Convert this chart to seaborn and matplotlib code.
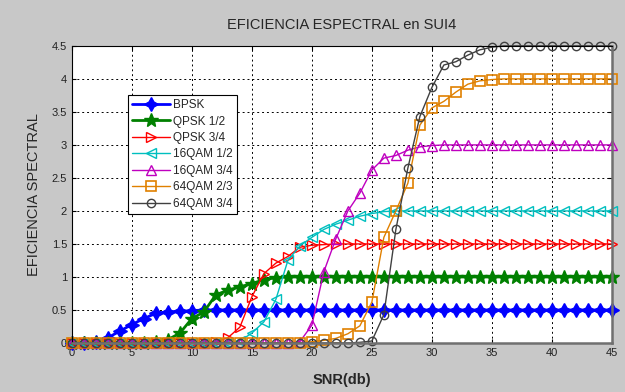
import matplotlib
matplotlib.use("Agg")
import matplotlib.pyplot as plt
import seaborn as sns
import pandas as pd

snr = list(range(46))

bpsk = [0, 0, 0.02, 0.08, 0.18, 0.28, 0.37, 0.45, 0.47, 0.48, 0.49, 0.5,
        0.5, 0.5, 0.5, 0.5, 0.5, 0.5, 0.5, 0.5, 0.5, 0.5, 0.5, 0.5,
        0.5, 0.5, 0.5, 0.5, 0.5, 0.5, 0.5, 0.5, 0.5, 0.5, 0.5, 0.5,
        0.5, 0.5, 0.5, 0.5, 0.5, 0.5, 0.5, 0.5, 0.5, 0.5]
qpsk12 = [0, 0, 0, 0, 0, 0, 0, 0.01, 0.05, 0.15, 0.37, 0.47,
          0.73, 0.8, 0.85, 0.9, 0.96, 0.99, 1, 1, 1, 1, 1, 1,
          1, 1, 1, 1, 1, 1, 1, 1, 1, 1, 1, 1,
          1, 1, 1, 1, 1, 1, 1, 1, 1, 1]
qpsk34 = [0, 0, 0, 0, 0, 0, 0, 0, 0, 0, 0, 0,
          0.02, 0.08, 0.24, 0.7, 1.05, 1.21, 1.31, 1.45, 1.48, 1.49, 1.5, 1.5,
          1.5, 1.5, 1.5, 1.5, 1.5, 1.5, 1.5, 1.5, 1.5, 1.5, 1.5, 1.5,
          1.5, 1.5, 1.5, 1.5, 1.5, 1.5, 1.5, 1.5, 1.5, 1.5]
qam16_12 = [0, 0, 0, 0, 0, 0, 0, 0, 0, 0, 0, 0,
            0, 0, 0.03, 0.15, 0.32, 0.66, 1.25, 1.47, 1.6, 1.72, 1.8, 1.86,
            1.92, 1.96, 1.99, 2, 2, 2, 2, 2, 2, 2, 2, 2,
            2, 2, 2, 2, 2, 2, 2, 2, 2, 2]
qam16_34 = [0, 0, 0, 0, 0, 0, 0, 0, 0, 0, 0, 0,
            0, 0, 0, 0, 0, 0, 0, 0.02, 0.27, 1.08, 1.58, 2.0,
            2.27, 2.62, 2.8, 2.84, 2.92, 2.97, 2.99, 3, 3, 3, 3, 3,
            3, 3, 3, 3, 3, 3, 3, 3, 3, 3]
qam64_23 = [0, 0, 0, 0, 0, 0, 0, 0, 0, 0, 0, 0,
            0, 0, 0, 0, 0, 0, 0, 0, 0.02, 0.04, 0.07, 0.14,
            0.26, 0.62, 1.6, 2.0, 2.42, 3.3, 3.56, 3.66, 3.8, 3.92, 3.97, 3.99,
            4, 4, 4, 4, 4, 4, 4, 4, 4, 4]
qam64_34 = [0, 0, 0, 0, 0, 0, 0, 0, 0, 0, 0, 0,
            0, 0, 0, 0, 0, 0, 0, 0, 0, 0, 0, 0,
            0.01, 0.03, 0.43, 1.72, 2.65, 3.43, 3.87, 4.21, 4.26, 4.36, 4.44, 4.48,
            4.5, 4.5, 4.5, 4.5, 4.5, 4.5, 4.5, 4.5, 4.5, 4.5]

labels = ["BPSK", "QPSK 1/2", "QPSK 3/4", "16QAM 1/2", "16QAM 3/4",
          "64QAM 2/3", "64QAM 3/4"]
series = [bpsk, qpsk12, qpsk34, qam16_12, qam16_34, qam64_23, qam64_34]

styles = [
    dict(color="#0000ff", marker=(4, 1, 0), markersize=10, lw=2.0, mfc="#0000ff", mec="#0000ff", mew=1.0),
    dict(color="#008000", marker="*", markersize=10, lw=2.0, mfc="#008000", mec="#008000", mew=1.0),
    dict(color="#ff0000", marker=">", markersize=7, lw=1.0, mfc="none", mec="#ff0000", mew=1.0),
    dict(color="#00bfbf", marker="<", markersize=7, lw=1.0, mfc="none", mec="#00bfbf", mew=1.0),
    dict(color="#bf00bf", marker="^", markersize=7, lw=1.0, mfc="none", mec="#bf00bf", mew=1.0),
    dict(color="#e08000", marker="s", markersize=7, lw=1.0, mfc="none", mec="#e08000", mew=1.2),
    dict(color="#404040", marker="o", markersize=6, lw=1.0, mfc="none", mec="#404040", mew=1.0),
]

sns.set_style("white")
plt.rcParams["font.family"] = ["Liberation Sans", "DejaVu Sans"]

fig = plt.figure(figsize=(6.25, 3.92), dpi=100, facecolor="#c8c8c8")
ax = fig.add_axes([0.115, 0.125, 0.864, 0.758])
ax.set_facecolor("white")

for lab, vals, st in zip(labels, series, styles):
    df = pd.DataFrame({"snr": snr, "ef": vals})
    sns.lineplot(data=df, x="snr", y="ef", ax=ax, label=lab, sort=False,
                 estimator=None, clip_on=False, **st)

ax.set_xlim(0, 45)
ax.set_ylim(0, 4.5)
ax.set_xticks([0, 5, 10, 15, 20, 25, 30, 35, 40, 45])
ax.set_yticks([0, 0.5, 1, 1.5, 2, 2.5, 3, 3.5, 4, 4.5])
ax.set_yticklabels(["0", "0.5", "1", "1.5", "2", "2.5", "3", "3.5", "4", "4.5"])
ax.tick_params(direction="in", length=3, labelsize=8, top=True, right=True,
               bottom=True, left=True, colors="#000000", labelcolor="#222222")
ax.grid(True, color="black", linestyle=(0, (2, 3)), linewidth=0.7)
ax.set_axisbelow(True)

for side in ["left", "top"]:
    ax.spines[side].set_color("black")
    ax.spines[side].set_linewidth(0.8)
for side in ["right", "bottom"]:
    ax.spines[side].set_color("#707070")
    ax.spines[side].set_linewidth(1.8)

ax.set_title("EFICIENCIA ESPECTRAL en SUI4", fontsize=10.5, pad=12)
ax.set_xlabel("SNR(db)", fontsize=10.5, fontweight="bold", labelpad=11)
ax.set_ylabel("EFICIENCIA SPECTRAL", fontsize=10.5, labelpad=8)

leg = ax.legend(loc="upper left", bbox_to_anchor=(0.104, 0.835), borderaxespad=0,
                fontsize=8.5, handlelength=3.2, frameon=True, fancybox=False,
                framealpha=1, edgecolor="black", borderpad=0.35,
                labelspacing=0.38, handletextpad=0.3)
leg.get_frame().set_linewidth(0.8)

fig.savefig("out.png", dpi=100, facecolor=fig.get_facecolor())
